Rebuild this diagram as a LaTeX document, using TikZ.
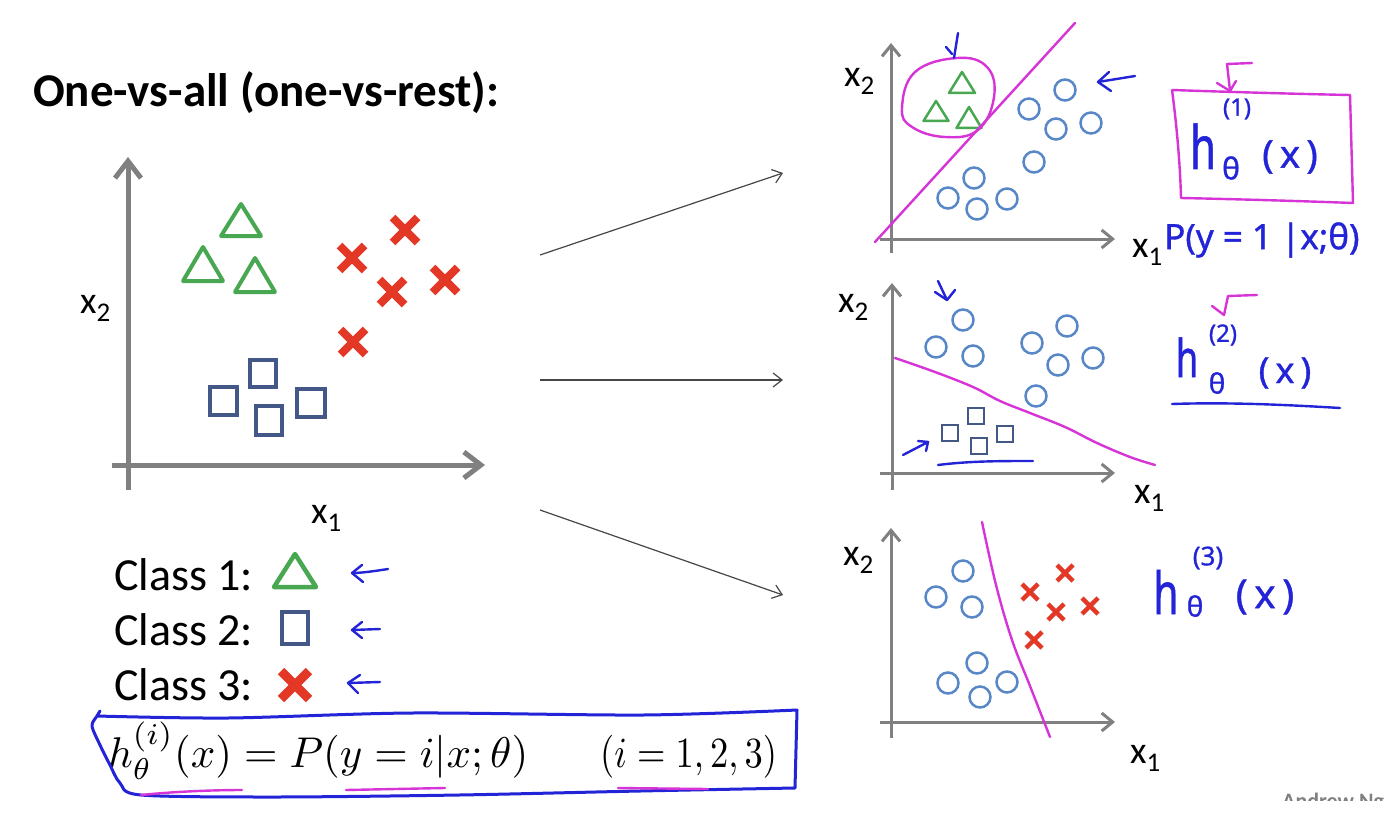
\documentclass[tikz,border=0pt]{standalone}
\usepackage{fontspec}
\usetikzlibrary{arrows.meta}
\newfontfamily\calib{Carlito}
\newfontfamily\hand[FakeBold=1]{Noto Sans}
\definecolor{axg}{RGB}{128,128,128}
\definecolor{trig}{RGB}{72,168,82}
\definecolor{xred}{RGB}{228,56,38}
\definecolor{sqb}{RGB}{68,88,135}
\definecolor{cirb}{RGB}{88,135,200}
\definecolor{mag}{RGB}{214,52,214}
\definecolor{penb}{RGB}{35,35,215}
\definecolor{arrg}{RGB}{70,70,70}
\newcommand\Tri[5]{\draw[trig,line width=#5,line join=round] (#1,#2) -- ({#1+#4},#3) -- ({#1-#4},#3) -- cycle;}
\newcommand\Sq[5]{\draw[sqb,line width=#5] ({#1-#3/2},{#2-#4/2}) rectangle ({#1+#3/2},{#2+#4/2});}
\newcommand\Xm[4]{\draw[xred,line width=#4] ({#1-#3},{#2-#3}) -- ({#1+#3},{#2+#3}) ({#1-#3},{#2+#3}) -- ({#1+#3},{#2-#3});}
\newcommand\Ci[2]{\draw[cirb,line width=2.5pt] (#1,#2) circle (10.5pt);}
\newcommand\xlab[1]{\calib\fontsize{38}{40}\selectfont x\raisebox{-8pt}{\fontsize{27}{30}\selectfont #1}}
\tikzset{
  axisL/.style={draw=axg,line width=5pt,-{Straight Barb[length=17pt,width=26pt]}},
  axisR/.style={draw=axg,line width=3pt,-{Straight Barb[length=11pt,width=18pt]}},
  conn/.style={draw=arrg,line width=1.2pt,-{Straight Barb[length=9pt,width=14pt]}},
  penline/.style={draw=penb,line width=2.4pt,line cap=round,line join=round},
  magline/.style={draw=mag,line width=2.4pt,line cap=round,line join=round},
  txt/.style={anchor=base west,inner sep=0pt},
  hw/.style={text=penb,inner sep=0pt,font=\hand},
}
\begin{document}
\begin{tikzpicture}[x=1pt,y=-1pt]
\path[use as bounding box,fill=white] (0,0) rectangle (1396,821);

% title
\node[txt] (title) at (33,107) {\calib\bfseries\fontsize{47}{50}\selectfont One-vs-all (one-vs-rest):};

% ---------- left plot ----------
\draw[axisL] (128,490) -- (128,157);
\draw[axisL] (112,465) -- (485,465);
\node[txt] (lx2) at (80,313) {\xlab{2}};
\node[txt] (lx1) at (311,523) {\xlab{1}};
\Tri{241}{204}{236}{20}{4pt}
\Tri{203}{247}{281}{20}{4pt}
\Tri{255}{258}{292}{20}{4pt}
\Xm{405}{230}{12.5}{8pt}
\Xm{352}{258}{12.5}{8pt}
\Xm{392}{292}{12.5}{8pt}
\Xm{445}{280}{12.5}{8pt}
\Xm{353}{342}{12.5}{8pt}
\Sq{263}{373}{26}{27}{4pt}
\Sq{223}{401}{27}{28}{4pt}
\Sq{269}{420}{26}{29}{4pt}
\Sq{311}{403}{28}{28}{4pt}

% connectors
\coordinate (c1s) at (540,255); \coordinate (c1e) at (783,173);
\coordinate (c2s) at (540,380); \coordinate (c2e) at (783,380);
\coordinate (c3s) at (540,510); \coordinate (c3e) at (783,595);
\draw[conn] (c1s) -- (c1e);
\draw[conn] (c2s) -- (c2e);
\draw[conn] (c3s) -- (c3e);

% legend
\node[txt] (cl1) at (114,590) {\calib\fontsize{46}{50}\selectfont Class 1:};
\node[txt] (cl2) at (114,645) {\calib\fontsize{46}{50}\selectfont Class 2:};
\node[txt] (cl3) at (114,700) {\calib\fontsize{46}{50}\selectfont Class 3:};
\Tri{295}{554}{587}{21}{4.5pt}
\Sq{295}{628}{26}{32}{4.5pt}
\Xm{295}{685}{14}{9pt}
\draw[penline] (388,569) .. controls (375,571) and (362,573) .. (352,573);
\draw[penline] (362,565) -- (352,573) -- (363,582);
\draw[penline] (380,629) -- (352,630);
\draw[penline] (362,622) -- (352,630) -- (362,638);
\draw[penline] (380,682) -- (348,683);
\draw[penline] (360,675) -- (348,683) -- (358,693);

% formula
\node[txt] (hyp) at (108,767) {\scalebox{4.3}{$h_\theta^{(i)}(x) = P(y=i|x;\theta)$}};
\node[txt] (rng) at (600,767) {\scalebox{3.65}[4.3]{$(i=1,2,3)$}};
\draw[penb,line width=3pt,line cap=round,line join=round] plot[smooth,tension=0.5] coordinates {(100,711) (97,716) (92,726) (100,745) (110,765) (120,783) (141,795) (274,797) (459,795) (640,791) (795,788)} -- (797,710) -- plot[smooth,tension=0.5] coordinates {(797,710) (643,715) (412,713) (228,718) (97,716)};
\draw[magline] (141,795) .. controls (180,791) and (220,790) .. (242,790);
\draw[magline] (346,790) -- (445,788);
\draw[magline] (618,788) -- (708,789);

% ---------- right plot 1 ----------
\draw[axisR] (891,253) -- (891,43);
\draw[axisR] (880,239) -- (1115,239);
\node[txt] (ax2) at (844,87) {\xlab{2}};
\node[txt] (ax1) at (1132,257) {\xlab{1}};
\Tri{962}{72}{93}{13}{2.5pt}
\Tri{936}{101}{121}{12.5}{2.5pt}
\Tri{969}{107}{128}{12.5}{2.5pt}
\Ci{1065}{90}\Ci{1029}{109}\Ci{1091}{123}\Ci{1056}{129}\Ci{1034}{162}
\Ci{974}{178}\Ci{948}{198}\Ci{977}{209}\Ci{1007}{199}
\draw[magline] (875,242) -- (1075,23);
\draw[magline] plot[smooth cycle,tension=0.7] coordinates {(957,58) (987,67) (994,97) (978,130) (945,137) (912,127) (902,108) (915,72)};
\draw[penline] (946,47) -- (952,54);
\draw[penline] (954,58) -- (958,33);
\draw[penline] (1135,76) -- (1098,82);
\draw[penline] (1109,72) -- (1098,82) -- (1111,91);
% annotation 1
\draw[magline] (1172,90) .. controls (1230,92) and (1300,94) .. (1350,95) -- (1353,203) .. controls (1300,201) and (1230,199) .. (1181,198) .. controls (1180,160) and (1176,120) .. (1172,90);
\draw[magline] (1252,63) -- (1227,64) -- (1230,91);
\draw[magline] (1217,83) -- (1230,91) -- (1236,81);
\node[hw] (h1s) at (1237,109) {\fontsize{24}{26}\selectfont (1)};
\node[hw,anchor=base] (h1h) at (1203,169) {\fontsize{60}{62}\selectfont\scalebox{0.7}[1]{h}};
\node[hw] (h1t) at (1231,168) {\fontsize{30}{32}\selectfont θ};
\node[hw] (h1x) at (1290,157) {\fontsize{38}{40}\selectfont (\,x\,)};
\node[hw,anchor=west] (p1) at (1164,240) {\fontsize{35}{40}\selectfont P(y = 1 |x;θ)};

% ---------- right plot 2 ----------
\draw[axisR] (892,490) -- (892,283);
\draw[axisR] (880,473) -- (1115,473);
\node[txt] (bx2) at (838,312) {\xlab{2}};
\node[txt] (bx1) at (1134,503) {\xlab{1}};
\Ci{963}{320}\Ci{936}{347}\Ci{973}{356}\Ci{1032}{343}\Ci{1067}{326}
\Ci{1058}{365}\Ci{1093}{358}\Ci{1036}{396}
\Sq{976}{416}{16}{16}{2.5pt}
\Sq{950}{433}{16}{16}{2.5pt}
\Sq{979}{446}{16}{16}{2.5pt}
\Sq{1005}{434}{16}{16}{2.5pt}
\draw[magline] plot[smooth,tension=0.6] coordinates {(895,358) (935,372) (973,387) (1000,401) (1030,413) (1065,427) (1097,443) (1130,457) (1155,465)};
\draw[penline] (938,281) -- (946,298);
\draw[penline] (935,292) -- (947,300) -- (955,290);
\draw[penline] (903,455) -- (928,442);
\draw[penline] (918,441) -- (928,442) -- (926,451);
\draw[penline] (938,465) .. controls (970,461) and (1000,461) .. (1033,461);
% annotation 2
\draw[magline] (1257,295) -- (1228,296) -- (1224,315);
\draw[magline] (1212,306) -- (1224,315);
\node[hw] (h2s) at (1223,335) {\fontsize{24}{26}\selectfont (2)};
\node[hw,anchor=base] (h2h) at (1187,377) {\fontsize{52}{54}\selectfont\scalebox{0.7}[1]{h}};
\node[hw] (h2t) at (1217,383) {\fontsize{28}{30}\selectfont θ};
\node[hw] (h2x) at (1285,373) {\fontsize{36}{38}\selectfont (\,x\,)};
\draw[penline] (1172,404) .. controls (1230,402) and (1290,405) .. (1340,408);

% ---------- right plot 3 ----------
\draw[axisR] (891,738) -- (891,528);
\draw[axisR] (880,722) -- (1115,722);
\node[txt] (cx2) at (843,565) {\xlab{2}};
\node[txt] (cx1) at (1130,763) {\xlab{1}};
\Ci{963}{571}\Ci{936}{597}\Ci{972}{607}
\Ci{977}{663}\Ci{948}{683}\Ci{980}{697}\Ci{1007}{682}
\Xm{1030}{592}{8}{4.5pt}
\Xm{1065}{573}{8}{4.5pt}
\Xm{1056}{612}{8}{4.5pt}
\Xm{1090}{606}{8}{4.5pt}
\Xm{1034}{640}{8}{4.5pt}
\draw[magline] plot[smooth,tension=0.6] coordinates {(982,522) (996,585) (1012,640) (1030,686) (1050,737)};
% annotation 3
\node[hw] (h3s) at (1208,558) {\fontsize{26}{28}\selectfont (3)};
\node[hw,anchor=base] (h3h) at (1166,614) {\fontsize{58}{60}\selectfont\scalebox{0.7}[1]{h}};
\node[hw] (h3t) at (1195,606) {\fontsize{28}{30}\selectfont θ};
\node[hw] (h3x) at (1265,597) {\fontsize{40}{42}\selectfont (\,x\,)};

% credit
\begin{scope}
\clip (1200,780) rectangle (1396,800);
\node[txt,text=gray] (credit) at (1282,808) {\calib\bfseries\fontsize{22}{24}\selectfont Andrew Ng};
\end{scope}
\end{tikzpicture}
\end{document}
